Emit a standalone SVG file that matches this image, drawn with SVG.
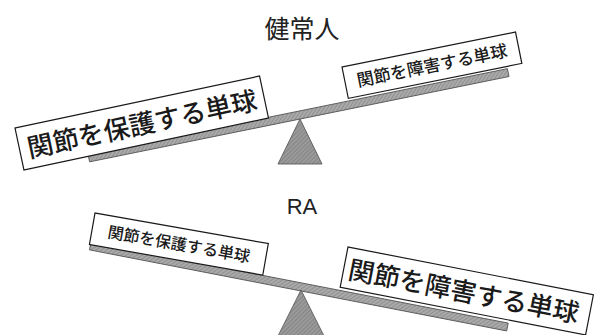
<svg xmlns="http://www.w3.org/2000/svg" width="594" height="335" viewBox="0 0 594 335">
  <style>
    .title { font-family: "Liberation Sans", "Noto Sans CJK JP", sans-serif; fill: #222; text-anchor: middle; }
    .lbl { font-family: "Noto Sans CJK JP", sans-serif; fill: #1a1a1a; text-anchor: middle; font-weight: 500; }
    .box { fill: #ffffff; stroke: #1a1a1a; stroke-width: 1.2; }
    .beam { fill: url(#hatch); stroke: #5a5a5a; stroke-width: 0.9; }
    .fulcrum { fill: url(#hatch2); stroke: #5a5a5a; stroke-width: 0.9; }
  </style>
  <defs>
    <pattern id="hatch" width="3" height="3" patternUnits="userSpaceOnUse" patternTransform="rotate(45)">
      <rect width="3" height="3" fill="#aaaaaa"/>
      <line x1="0" y1="0" x2="0" y2="3" stroke="#7e7e7e" stroke-width="1.2"/>
    </pattern>
    <pattern id="hatch2" width="3" height="3" patternUnits="userSpaceOnUse" patternTransform="rotate(45)">
      <rect width="3" height="3" fill="#9a9a9a"/>
      <line x1="0" y1="0" x2="0" y2="3" stroke="#777777" stroke-width="1.2"/>
    </pattern>
  </defs>
  <rect width="594" height="335" fill="#ffffff"/>

  <g id="title-healthy"><text class="title" x="302" y="38" font-size="25">健常人</text></g>
  <g id="title-ra"><text class="title" x="302" y="214" font-size="22">RA</text></g>

  <g id="seesaw-top">
    <rect class="beam" x="0" y="0" width="428" height="8" transform="translate(88,154) rotate(-11.5)"/>
    <polygon class="fulcrum" points="300,119 278,164 322,164"/>
  </g>
  <g id="seesaw-bottom">
    <rect class="beam" x="0" y="0" width="425" height="8" transform="translate(91,242) rotate(11)"/>
    <polygon class="fulcrum" points="301,290 278,336 324,336"/>
  </g>

  <g id="top-protect" transform="translate(15,128) rotate(-12)">
    <rect class="box" x="0" y="0" width="250" height="43"/>
    <text class="lbl" x="125" y="32" font-size="26">関節を保護する単球</text>
  </g>
  <g id="top-damage" transform="translate(342,67) rotate(-11.4)">
    <rect class="box" x="0" y="0" width="177" height="32"/>
    <text class="lbl" x="88.5" y="22.5" font-size="17">関節を障害する単球</text>
  </g>
  <g id="bottom-protect" transform="translate(95,213) rotate(10)">
    <rect class="box" x="0" y="0" width="176" height="32"/>
    <text class="lbl" x="88" y="22" font-size="16">関節を保護する単球</text>
  </g>
  <g id="bottom-damage" transform="translate(348,247) rotate(11)">
    <rect class="box" x="0" y="0" width="250" height="41"/>
    <text class="lbl" x="122" y="31" font-size="26">関節を障害する単球</text>
  </g>
</svg>
